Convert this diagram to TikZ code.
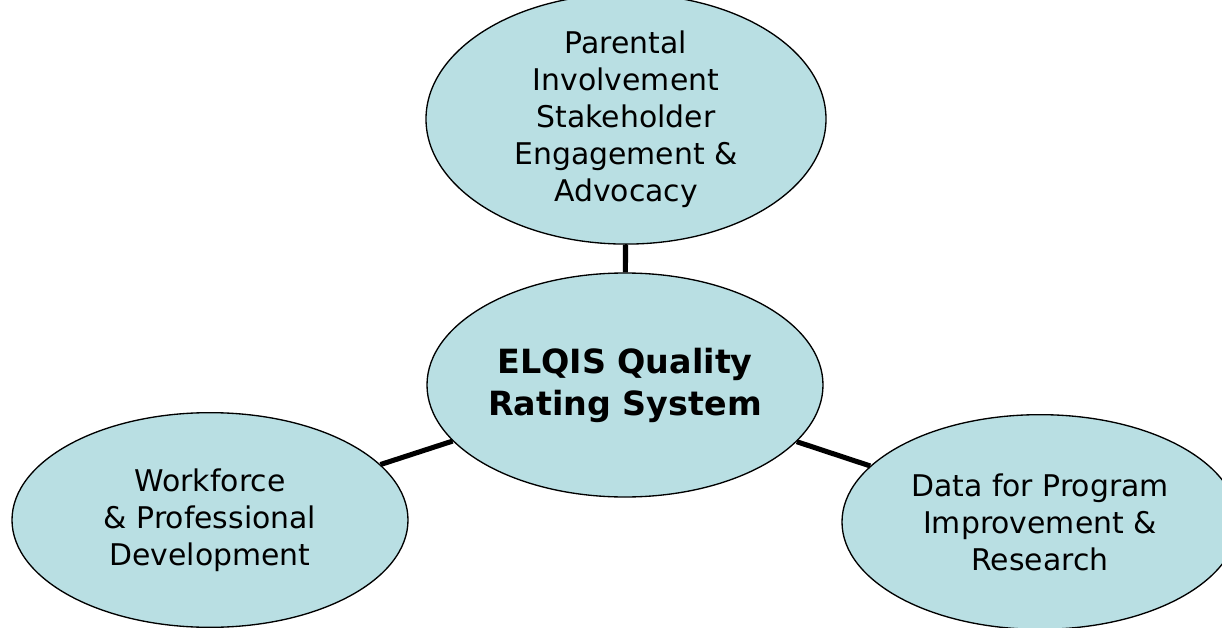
\documentclass[tikz,border=0pt]{standalone}
\usepackage{fontspec}
\setmainfont{DejaVu Sans}
\usetikzlibrary{shapes.geometric}
\definecolor{bubble}{RGB}{185,223,227}
\tikzset{
  bubble/.style={ellipse, draw=black, line width=1pt, fill=bubble,
    inner sep=0pt, align=center, font=\fontsize{22.4}{27.75}\selectfont},
  hub/.style={bubble, font=\fontsize{25}{31.5}\selectfont\bfseries},
  link/.style={line width=3.8pt, black}
}
\begin{document}
\begin{tikzpicture}[x=0.75pt,y=-0.75pt]
  \useasboundingbox (0,0) rectangle (1222,628);
  \clip (0,0) rectangle (1222,628);
  \fill[white] (0,0) rectangle (1222,628);

  \node[hub, minimum width=297pt, minimum height=168pt] (core) at (625,385)
    {ELQIS Quality\\Rating System};
  \node[bubble, minimum width=300pt, minimum height=166pt] (parent) at (626,119)
    {Parental\\Involvement\\Stakeholder\\Engagement \&\\Advocacy};
  \node[bubble, minimum width=297pt, minimum height=161pt] (work) at (210,520)
    {Workforce\\\& Professional\\Development};
  \node[bubble, minimum width=297pt, minimum height=161pt] (data) at (1040,522)
    {Data for Program\\Improvement \&\\Research};

  \draw[link] (core) -- (parent);
  \draw[link] (core) -- (work);
  \draw[link] (core) -- (data);
\end{tikzpicture}
\end{document}
